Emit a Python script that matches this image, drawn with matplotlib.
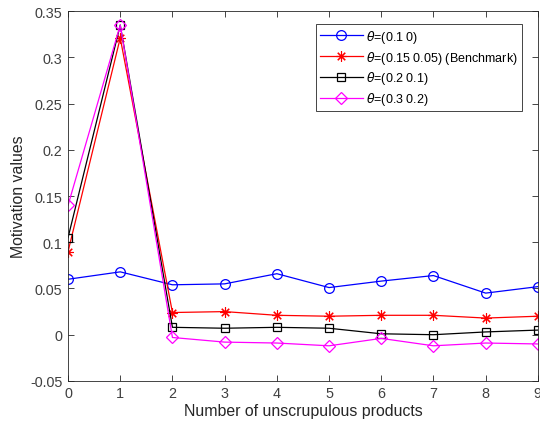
############################# Settings ###########################

import numpy as np
import matplotlib
matplotlib.use("Agg")
import matplotlib.pyplot as plt

plt.rcParams['font.family'] = ['Liberation Sans', 'DejaVu Sans']
plt.rcParams['mathtext.fontset'] = 'dejavusans'

########################## Data #########################

products = [0, 1, 2, 3, 4, 5, 6, 7, 8, 9]

theta_01_0 = [0.060, 0.068, 0.054, 0.055, 0.066, 0.051, 0.058, 0.064, 0.045, 0.052]
theta_015_005 = [0.090, 0.321, 0.024, 0.025, 0.021, 0.020, 0.021, 0.021, 0.018, 0.020]
theta_02_01 = [0.105, 0.335, 0.008, 0.007, 0.008, 0.007, 0.001, 0.000, 0.003, 0.005]
theta_03_02 = [0.140, 0.335, -0.003, -0.008, -0.009, -0.012, -0.004, -0.012, -0.009, -0.010]

labels = [r"$\theta$=(0.1 0)", r"$\theta$=(0.15 0.05) (Benchmark)",
          r"$\theta$=(0.2 0.1)", r"$\theta$=(0.3 0.2)"]

y_ticks = [-0.05, 0, 0.05, 0.1, 0.15, 0.2, 0.25, 0.3, 0.35]
y_tick_labels = ["-0.05", "0", "0.05", "0.1", "0.15", "0.2", "0.25", "0.3", "0.35"]

########################## Plot #########################

fig = plt.figure(figsize=(5.4, 4.35), dpi=100)
ax = fig.add_axes([0.126, 0.122, 0.870, 0.850])

ax.plot(products, theta_01_0, color="#0000ff", lw=0.9, marker="o", ms=7, mfc="none", mew=0.9)
ax.plot(products, theta_015_005, color="#ff0000", lw=0.9, marker=(8, 2, 0), ms=7.5, mfc="none", mew=0.8)
ax.plot(products, theta_02_01, color="#000000", lw=0.9, marker="s", ms=6, mfc="none", mew=0.9)
ax.plot(products, theta_03_02, color="#ff00ff", lw=0.9, marker="D", ms=6, mfc="none", mew=0.9)

ax.set_xlim(0, 9)
ax.set_ylim(-0.05, 0.35)
ax.set_xticks(products)
ax.set_yticks(y_ticks)
ax.set_yticklabels(y_tick_labels)
ax.tick_params(direction="in", top=True, right=True, labelsize=10.4, colors="#262626",
               labelcolor="#404040", length=4, width=0.6, pad=4)
for s in ax.spines.values():
    s.set_color("#262626")
    s.set_linewidth(0.6)

ax.set_xlabel("Number of unscrupulous products", fontsize=11.4, color="#262626", labelpad=2)
ax.set_ylabel("Motivation values", fontsize=11.4, color="#262626", labelpad=3)

leg = ax.legend(labels, loc="upper right", bbox_to_anchor=(0.966, 0.965), fontsize=9,
                handlelength=3.4, fancybox=False, edgecolor="#262626", framealpha=1,
                borderpad=0.3, labelspacing=0.3, handletextpad=0.3, borderaxespad=0)
leg.get_frame().set_linewidth(0.6)

plt.savefig("out.png", dpi=100)
